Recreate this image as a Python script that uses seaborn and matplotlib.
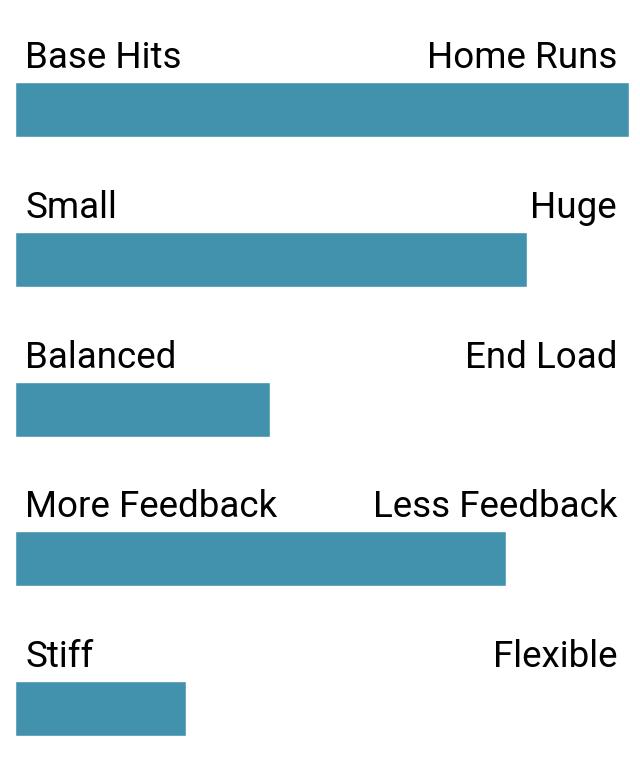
import matplotlib
matplotlib.use("Agg")
import matplotlib.pyplot as plt
import seaborn as sns
import pandas as pd

left_labels = ["Base Hits", "Small", "Balanced", "More Feedback", "Stiff"]
right_labels = ["Home Runs", "Huge", "End Load", "Less Feedback", "Flexible"]
values = [100, 83.4, 41.6, 80, 27.9]

df = pd.DataFrame({"cat": left_labels, "value": values})

sns.set_theme(style="white")
plt.rcParams["font.family"] = ["Roboto", "DejaVu Sans"]

fig = plt.figure(figsize=(6.4, 7.8), dpi=100)
ax = fig.add_axes([14.7 / 640, 0, 614 / 640, 1])
sns.barplot(data=df, x="value", y="cat", orient="h", color="#4392ad",
            saturation=1, width=55 / 149.7, ax=ax)
ax.set_xlim(0, 100)
ax.set_ylim(4 + 71.5 / 149.7, -109.8 / 149.7)
for s in ax.spines.values():
    s.set_visible(False)
ax.set_xticks([])
ax.set_yticks([])
ax.set_xlabel("")
ax.set_ylabel("")

for i, (l, r) in enumerate(zip(left_labels, right_labels)):
    ax.text(1.75, i - 41.5 / 149.7, l, ha="left", va="baseline", fontsize=26.5, color="black")
    ax.text(98.1, i - 41.5 / 149.7, r, ha="right", va="baseline", fontsize=26.5, color="black")

fig.savefig("out.png", dpi=100, facecolor="white")
